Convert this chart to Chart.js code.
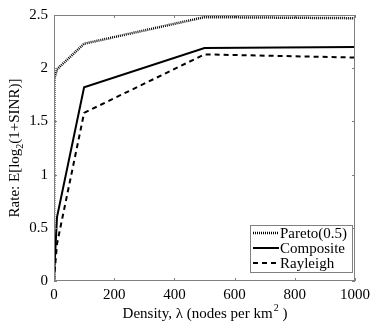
<!DOCTYPE html>
<html lang="en">
<head>
    <meta charset="UTF-8">
    <title>Rate vs Density</title>
    <script src="https://cdn.jsdelivr.net/npm/chart.js@4.4.0/dist/chart.umd.min.js"></script>
    <style>
        html, body { margin: 0; padding: 0; background: #fff; }
        #wrap { width: 390px; height: 326px; position: relative; }
    </style>
</head>
<body>
    <div id="wrap"><canvas id="rateChart"></canvas></div>
    <script>
        // Data
        const density = [0, 1, 10, 100, 500, 1000];
        const pareto = [0, 1.9, 1.99, 2.23, 2.48, 2.47];
        const composite = [0, 0.1, 0.6, 1.82, 2.19, 2.2];
        const rayleigh = [0, 0.05, 0.35, 1.58, 2.13, 2.1];
        const seriesNames = ['Pareto(0.5)', 'Composite', 'Rayleigh'];
        const xTicks = [0, 200, 400, 600, 800, 1000];
        const yTicks = [0, 0.5, 1, 1.5, 2, 2.5];

        const FONT = '"Liberation Serif", "Times New Roman", serif';
        const FS = 15;
        const AXIS = '#808080';

        const pts = ys => density.map((x, i) => ({ x: x, y: ys[i] }));

        // inward ticks, box, axis titles, legend
        const decor = {
            id: 'decor',
            afterDraw(chart) {
                const ctx = chart.ctx;
                const a = chart.chartArea;
                const xs = chart.scales.x, ys = chart.scales.y;
                ctx.save();
                ctx.strokeStyle = AXIS;
                ctx.lineWidth = 1;
                ctx.strokeRect(a.left + 0.5, a.top + 0.5, a.right - a.left - 1, a.bottom - a.top - 1);
                ctx.beginPath();
                xTicks.forEach(t => {
                    const px = Math.round(xs.getPixelForValue(t)) + 0.5;
                    ctx.moveTo(px, a.bottom); ctx.lineTo(px, a.bottom - 3);
                    ctx.moveTo(px, a.top); ctx.lineTo(px, a.top + 3);
                });
                yTicks.forEach(t => {
                    const py = Math.round(ys.getPixelForValue(t)) + 0.5;
                    ctx.moveTo(a.left, py); ctx.lineTo(a.left + 3, py);
                    ctx.moveTo(a.right, py); ctx.lineTo(a.right - 3, py);
                });
                ctx.stroke();

                const big = FS + 'px ' + FONT, small = '10px ' + FONT;

                // x title with superscript
                ctx.fillStyle = '#000';
                ctx.textBaseline = 'alphabetic';
                ctx.textAlign = 'left';
                const p1 = 'Density, \u03bb (nodes per km';
                const p2 = ' )';
                ctx.font = small;
                const wSup = ctx.measureText('2').width;
                ctx.font = big;
                const w1 = ctx.measureText(p1).width, w2 = ctx.measureText(p2).width;
                const x0 = (a.left + a.right) / 2 - (w1 + wSup + w2) / 2;
                const yb = 318;
                ctx.fillText(p1, x0, yb);
                ctx.font = small;
                ctx.fillText('2', x0 + w1 + 1, yb - 7);
                ctx.font = big;
                ctx.fillText(p2, x0 + w1 + wSup + 1, yb);

                // y title with subscript, rotated
                ctx.translate(19, (a.top + a.bottom) / 2);
                ctx.rotate(-Math.PI / 2);
                const q1 = 'Rate: E[log', q2 = '(1+SINR)]';
                const wq1 = ctx.measureText(q1).width, wq2 = ctx.measureText(q2).width;
                ctx.font = small;
                const wSub = ctx.measureText('2').width;
                ctx.font = big;
                const s = -(wq1 + wSub + wq2) / 2;
                ctx.fillText(q1, s, 0);
                ctx.font = small;
                ctx.fillText('2', s + wq1, 4);
                ctx.font = big;
                ctx.fillText(q2, s + wq1 + wSub, 0);
                ctx.setTransform(1, 0, 0, 1, 0, 0);

                // legend box, bottom right
                const bx = 250, by = 225, bw = 102, bh = 47;
                ctx.fillStyle = '#fff';
                ctx.fillRect(bx, by, bw, bh);
                ctx.strokeStyle = AXIS;
                ctx.lineWidth = 1;
                ctx.strokeRect(bx + 0.5, by + 0.5, bw, bh);
                chart.data.datasets.forEach((ds, i) => {
                    const ry = by + 8 + i * 15;
                    ctx.beginPath();
                    ctx.strokeStyle = '#000';
                    ctx.lineWidth = ds.borderWidth;
                    ctx.setLineDash(ds.borderDash || []);
                    ctx.moveTo(bx + 3, ry);
                    ctx.lineTo(bx + 29, ry);
                    ctx.stroke();
                    ctx.setLineDash([]);
                    ctx.fillStyle = '#000';
                    ctx.textAlign = 'left';
                    ctx.textBaseline = 'middle';
                    ctx.font = big;
                    ctx.fillText(ds.label, bx + 30, ry + 1);
                });
                ctx.restore();
            }
        };

        new Chart(document.getElementById('rateChart'), {
            type: 'line',
            data: {
                datasets: [{
                    label: seriesNames[0],
                    data: pts(pareto),
                    borderColor: '#000',
                    borderWidth: 2.5,
                    borderDash: [1, 1],
                    pointRadius: 0
                }, {
                    label: seriesNames[1],
                    data: pts(composite),
                    borderColor: '#000',
                    borderWidth: 2,
                    pointRadius: 0
                }, {
                    label: seriesNames[2],
                    data: pts(rayleigh),
                    borderColor: '#000',
                    borderWidth: 2,
                    borderDash: [5, 4],
                    pointRadius: 0
                }]
            },
            options: {
                responsive: true,
                maintainAspectRatio: false,
                animation: false,
                layout: { padding: { left: 0, top: 6, right: 35, bottom: 0 } },
                plugins: { legend: { display: false }, tooltip: { enabled: false } },
                scales: {
                    x: {
                        type: 'linear',
                        min: 0, max: 1000,
                        afterBuildTicks: s => { s.ticks = xTicks.map(v => ({ value: v })); },
                        afterFit: s => { s.height = 45; },
                        grid: { display: false, drawTicks: false },
                        border: { display: false },
                        ticks: {
                            color: '#000', padding: 5, maxRotation: 0,
                            font: { family: FONT, size: FS },
                            callback: v => String(v)
                        }
                    },
                    y: {
                        min: 0, max: 2.5,
                        afterBuildTicks: s => { s.ticks = yTicks.map(v => ({ value: v })); },
                        afterFit: s => { s.width = 54; },
                        grid: { display: false, drawTicks: false },
                        border: { display: false },
                        ticks: {
                            color: '#000', padding: 6,
                            font: { family: FONT, size: FS },
                            callback: v => String(v)
                        }
                    }
                }
            },
            plugins: [decor]
        });
    </script>
</body>
</html>
